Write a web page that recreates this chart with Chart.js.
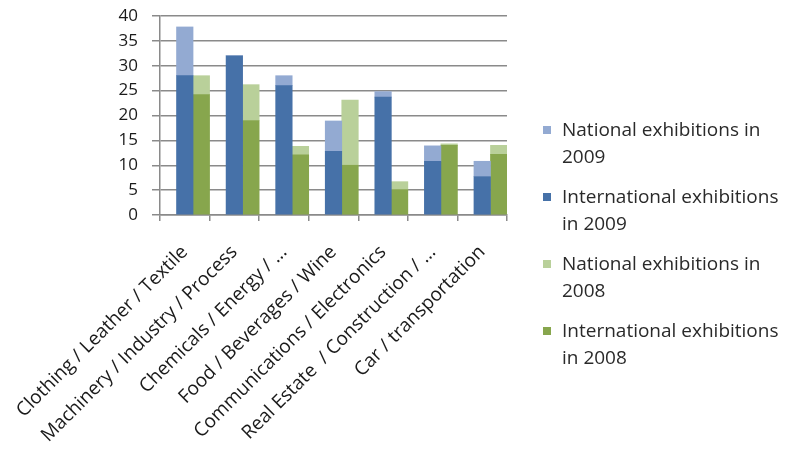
<!DOCTYPE html>
<html>
<head>
<meta charset="utf-8">
<script src="https://cdn.jsdelivr.net/npm/chart.js@4/dist/chart.umd.min.js"></script>
<style>
  html, body { margin: 0; padding: 0; background: #fff; }
  #wrap { position: relative; width: 785px; height: 451px; }
  #legend { position: absolute; left: 543px; top: 116px; font-family: "Open Sans", sans-serif; font-size: 19px; color: #2a2a2a; }
  .item { position: relative; padding-left: 19px; line-height: 27px; margin-bottom: 13px; white-space: nowrap; }
  .item span.box { position: absolute; left: 0; top: 10px; width: 8px; height: 8px; }
</style>
</head>
<body>
<div id="wrap">
  <canvas id="chart" width="785" height="451"></canvas>
  <div id="legend"></div>
</div>
<script>
// sectors on the x axis
const categories = [
  "Clothing / Leather / Textile",
  "Machinery / Industry / Process",
  "Chemicals / Energy / ...",
  "Food / Beverages / Wine",
  "Communications / Electronics",
  "Real Estate  / Construction / ...",
  "Car / transportation"
];
// number of exhibitions per sector
const intl2009 = [28, 32, 26, 12.8, 23.7, 10.8, 7.7];
const nat2009 = [9.8, 0, 2, 6.1, 1.1, 3.1, 3.1];
const intl2008 = [24.2, 19, 12.1, 10, 5.1, 14, 12.2];
const nat2008 = [3.8, 7.2, 1.7, 13.1, 1.6, 0.3, 1.8];
const yTicks = [0, 5, 10, 15, 20, 25, 30, 35, 40];

const colors = {
  nat2009: "#93AAD2",
  intl2009: "#4671A8",
  nat2008: "#B9D09A",
  intl2008: "#87A64D"
};

const legendItems = [
  ["National exhibitions in<br>2009", colors.nat2009],
  ["International exhibitions<br>in 2009", colors.intl2009],
  ["National exhibitions in<br>2008", colors.nat2008],
  ["International exhibitions<br>in 2008", colors.intl2008]
];
document.getElementById("legend").innerHTML = legendItems
  .map(([t, c]) => `<div class="item"><span class="box" style="background:${c}"></span>${t}</div>`)
  .join("");

const ctx = document.getElementById("chart").getContext("2d");
new Chart(ctx, {
  type: "bar",
  data: {
    labels: categories,
    datasets: [
      // empty stack keeps the bar pair on the right of each category
      { label: "", data: categories.map(() => null), stack: "pad", backgroundColor: "transparent" },
      { label: "International exhibitions in 2009", data: intl2009, stack: "2009", backgroundColor: colors.intl2009 },
      { label: "National exhibitions in 2009", data: nat2009, stack: "2009", backgroundColor: colors.nat2009 },
      { label: "International exhibitions in 2008", data: intl2008, stack: "2008", backgroundColor: colors.intl2008 },
      { label: "National exhibitions in 2008", data: nat2008, stack: "2008", backgroundColor: colors.nat2008 }
    ]
  },
  options: {
    responsive: false,
    animation: false,
    categoryPercentage: 1,
    barPercentage: 1,
    layout: { padding: { left: 0, right: 278, top: 16, bottom: 0 } },
    plugins: { legend: { display: false }, tooltip: { enabled: false } },
    scales: {
      x: {
        stacked: true,
        offset: true,
        afterFit: (s) => {
          s.height = 236;
          s.paddingLeft = 0;
          s.paddingRight = 0;
        },
        grid: { drawOnChartArea: false, color: "#8a8a8a", lineWidth: 1.5, tickLength: 6, offset: true },
        border: { color: "#8a8a8a", width: 1.5 },
        ticks: {
          autoSkip: false,
          minRotation: 45,
          maxRotation: 45,
          padding: 20,
          color: "#1a1a1a",
          font: { family: "Open Sans", size: 19 }
        }
      },
      y: {
        stacked: true,
        min: 0,
        max: 40,
        afterFit: (s) => {
          s.width = 160;
          s.paddingTop = 0;
          s.paddingBottom = 0;
        },
        afterBuildTicks: (s) => { s.ticks = yTicks.map((v) => ({ value: v })); },
        grid: { color: "#8a8a8a", lineWidth: 1.5, tickLength: 8 },
        border: { color: "#8a8a8a", width: 1.5 },
        ticks: {
          padding: 14,
          color: "#1a1a1a",
          font: { family: "Open Sans", size: 17 }
        }
      }
    }
  }
});
</script>
</body>
</html>
